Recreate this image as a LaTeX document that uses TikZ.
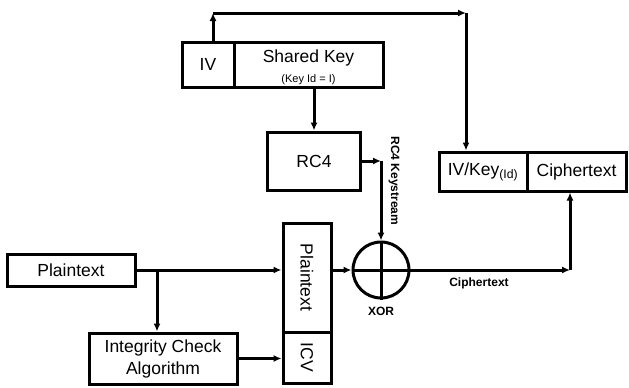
\documentclass[tikz,border=0pt]{standalone}
\usepackage{fontspec}
\setmainfont{Liberation Sans}
\usetikzlibrary{arrows.meta, positioning, calc}

\begin{document}
\begin{tikzpicture}[x=1pt, y=-1pt,
    box/.style={draw, line width=3pt, rectangle, inner sep=0pt, font=\fontsize{17.5}{22}\selectfont},
    arr/.style={line width=3pt, -{Latex[length=8pt, width=7pt]}},
    lbl/.style={font=\bfseries\fontsize{12}{13}\selectfont}]
    \useasboundingbox (0,0) rectangle (629,388);

    % IV und Schluessel
    \node[box, minimum width=52, minimum height=45] (iv) at (208,64.5) {IV};
    \node[box, minimum width=149, minimum height=45] (key) at (308.5,64.5) {};
    \node[font=\fontsize{17.5}{20}\selectfont] (keyname) at (308.5,58) {Shared Key};
    \node[font=\fontsize{11}{12}\selectfont] (keyid) at (308.5,80) {(Key Id = I)};
    \node[box, minimum width=93, minimum height=58] (rc4) at (314,161) {RC4};

    % Ausgabe
    \node[box, minimum width=88, minimum height=39] (ivk) at (483,171.5) {IV/Key\textsubscript{(Id)}};
    \node[box, minimum width=99, minimum height=39] (ct) at (576.5,171.5) {Ciphertext};

    % Eingabe
    \node[box, minimum width=128, minimum height=32] (plain) at (71,270) {Plaintext};
    \node[box, minimum width=148, minimum height=51, align=center] (icheck) at (163,358.5) {Integrity Check\\Algorithm};
    \node[box, minimum width=48, minimum height=109] (pt) at (307,277.5) {\rotatebox{-90}{Plaintext}};
    \node[box, minimum width=48, minimum height=51] (icv) at (307,357.5) {\rotatebox{-90}{ICV}};

    % XOR
    \node[circle, draw, line width=3pt, minimum size=56, inner sep=0pt] (xor) at (381,270) {};
    \draw[line width=3pt] (xor.north) -- (xor.south);
    \draw[line width=3pt] (xor.west) -- (xor.east);

    \coordinate (ivup) at (213,13);
    \coordinate (ivr) at (466,13);
    \coordinate (ks) at (381,161);
    \coordinate (br) at (157,270);
    \coordinate (ctc) at (570,270);

    % Pfeile
    \draw[arr] (ivup |- iv.north) -- (ivup);
    \draw[arr] (ivup) -- (ivr);
    \draw[arr] (ivr) -- (ivr |- ivk.north);
    \draw[arr] (rc4.north |- key.south) -- (rc4.north);
    \draw[arr] (rc4.east) -- (ks);
    \draw[arr] (ks) -- (xor.north);
    \draw[arr] (plain.east) -- (pt.west |- plain.east);
    \draw[arr] (br) -- (br |- icheck.north);
    \draw[arr] (icheck.east) -- (icv.west |- icheck.east);
    \draw[arr] (pt.east |- xor.west) -- (xor.west);
    \draw[arr] (xor.east) -- (ctc);
    \draw[arr] (ctc) -- (ctc |- ct.south);

    % Beschriftungen
    \node[lbl, rotate=-90] (kslbl) at (394,181) {RC4 Keystream};
    \node[lbl] (xorlbl) at (381,311) {XOR};
    \node[lbl] (ctlbl) at (479,283) {Ciphertext};
\end{tikzpicture}
\end{document}
